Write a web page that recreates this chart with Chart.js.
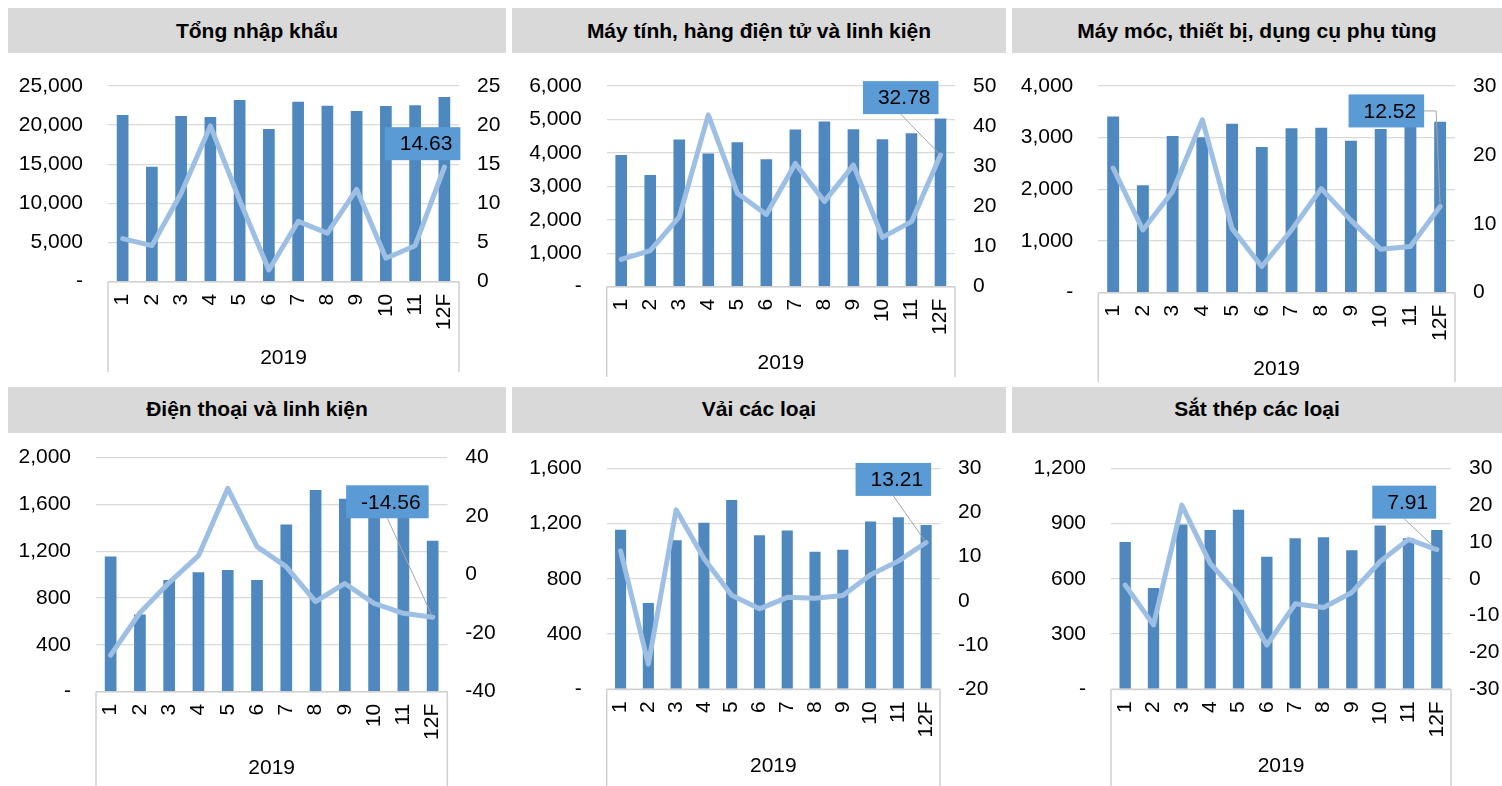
<!DOCTYPE html>
<html lang="vi">
<head>
<meta charset="UTF-8">
<title>Nhập khẩu 2019</title>
<script src="https://cdn.jsdelivr.net/npm/chart.js"></script>
<style>
  body {
    margin: 0;
    width: 1502px;
    height: 786px;
    overflow: hidden;
    position: relative;
    background: #fff;
    font-family: "Liberation Sans", Arial, sans-serif;
  }
  .head {
    position: absolute;
    background: #d9d9d9;
    font-weight: bold;
    font-size: 21px;
    color: #000;
    text-align: center;
  }
  .pane { position: absolute; }
</style>
</head>
<body>
<div class="head" style="left:8px;top:8px;width:498px;height:45px;line-height:45px">Tổng nhập khẩu</div>
<div class="head" style="left:512px;top:8px;width:494px;height:45px;line-height:45px">Máy tính, hàng điện tử và linh kiện</div>
<div class="head" style="left:1012px;top:8px;width:490px;height:45px;line-height:45px">Máy móc, thiết bị, dụng cụ phụ tùng</div>
<div class="head" style="left:8px;top:387px;width:498px;height:46px;line-height:44px">Điện thoại và linh kiện</div>
<div class="head" style="left:512px;top:387px;width:494px;height:46px;line-height:44px">Vải các loại</div>
<div class="head" style="left:1012px;top:387px;width:490px;height:46px;line-height:44px">Sắt thép các loại</div>

<div class="pane" id="p1"><canvas id="c1"></canvas></div>
<div class="pane" id="p2"><canvas id="c2"></canvas></div>
<div class="pane" id="p3"><canvas id="c3"></canvas></div>
<div class="pane" id="p4"><canvas id="c4"></canvas></div>
<div class="pane" id="p5"><canvas id="c5"></canvas></div>
<div class="pane" id="p6"><canvas id="c6"></canvas></div>

<script>
// months of 2019, 12F = forecast
const months = ['1', '2', '3', '4', '5', '6', '7', '8', '9', '10', '11', '12F'];
const yearLabel = '2019';

// Tổng nhập khẩu
const tongValue = [21300, 14700, 21170, 21040, 23210, 19510, 23000, 22490, 21810, 22450, 22530, 23600];
const tongGrowth = [5.5, 4.6, 11.3, 19.9, 10.4, 1.5, 7.7, 6.2, 11.8, 3.0, 4.6, 14.63];
const tongTicksL = [0, 5000, 10000, 15000, 20000, 25000];
const tongTicksR = [0, 5, 10, 15, 20, 25];

// Máy tính, hàng điện tử và linh kiện
const mtValue = [3940, 3340, 4400, 3980, 4320, 3810, 4700, 4940, 4710, 4410, 4590, 5030];
const mtGrowth = [6.8, 9.0, 17.4, 42.8, 23.3, 18.0, 30.7, 21.2, 30.3, 12.3, 16.2, 32.78];
const mtTicksL = [0, 1000, 2000, 3000, 4000, 5000, 6000];
const mtTicksR = [0, 10, 20, 30, 40, 50];

// Máy móc, thiết bị, dụng cụ phụ tùng
const mmValue = [3410, 2080, 3030, 3010, 3270, 2820, 3180, 3190, 2940, 3170, 3300, 3310];
const mmGrowth = [18.1, 9.1, 14.7, 25.1, 9.3, 3.8, 9.1, 15.1, 10.5, 6.3, 6.7, 12.52];
const mmTicksL = [0, 1000, 2000, 3000, 4000];
const mmTicksR = [0, 10, 20, 30];

// Điện thoại và linh kiện
const dtValue = [1155, 660, 955, 1020, 1040, 955, 1430, 1725, 1650, 1600, 1500, 1290];
const dtGrowth = [-27.5, -13.0, -2.7, 6.5, 29.5, 9.6, 2.7, -9.2, -3.0, -9.8, -13.2, -14.56];
const dtTicksL = [0, 400, 800, 1200, 1600, 2000];
const dtTicksR = [-40, -20, 0, 20, 40];

// Vải các loại
const vaiValue = [1155, 625, 1080, 1205, 1370, 1115, 1150, 995, 1010, 1215, 1245, 1190];
const vaiGrowth = [11.3, -14.3, 20.6, 9.6, 1.3, -1.8, 0.8, 0.6, 1.2, 5.9, 9.0, 13.21];
const vaiTicksL = [0, 400, 800, 1200, 1600];
const vaiTicksR = [-20, -10, 0, 10, 20, 30];

// Sắt thép các loại
const stValue = [800, 550, 895, 865, 975, 720, 820, 825, 755, 890, 820, 865];
const stGrowth = [-1.7, -12.5, 20.0, 4.2, -4.4, -18.0, -6.8, -7.8, -3.7, 4.7, 10.7, 7.91];
const stTicksL = [0, 300, 600, 900, 1200];
const stTicksR = [-30, -20, -10, 0, 10, 20, 30];

const BAR = '#4e88be';
const LINE = '#9dbfe3';
const BOX = '#5b9bd5';
const GRID = '#d9d9d9';
const FONT = "'Liberation Sans', Arial, sans-serif";

Chart.defaults.font.family = FONT;
Chart.defaults.font.size = 21;
Chart.defaults.color = '#000';

// frame of the category axis + value label of the last point
const framePlugin = {
  id: 'frame',
  afterDatasetsDraw(chart, args, opts) {
    const ctx = chart.ctx;
    const a = chart.chartArea;
    ctx.save();
    ctx.strokeStyle = '#d0d0d0';
    ctx.lineWidth = 1.5;
    ctx.beginPath();
    ctx.moveTo(a.left, a.bottom);
    ctx.lineTo(a.right, a.bottom);
    ctx.moveTo(a.left, a.bottom);
    ctx.lineTo(a.left, chart.height);
    ctx.moveTo(a.right, a.bottom);
    ctx.lineTo(a.right, chart.height);
    ctx.stroke();

    const meta = chart.getDatasetMeta(1);
    const pt = meta.data[meta.data.length - 1];
    const val = chart.data.datasets[1].data[meta.data.length - 1];
    const text = val.toFixed(2);
    ctx.font = '21px ' + FONT;
    const w = ctx.measureText(text).width + 23;
    const h = 33;
    const right = pt.x + opts.dx;
    const bottom = pt.y + opts.dy;
    const left = right - w;
    const top = bottom - h;

    ctx.strokeStyle = '#a6a6a6';
    ctx.lineWidth = 1;
    if (opts.leader === 'bottom') {
      ctx.beginPath();
      ctx.moveTo(left + w / 2, bottom);
      ctx.lineTo(pt.x, pt.y);
      ctx.stroke();
    } else if (opts.leader === 'elbow') {
      ctx.beginPath();
      ctx.moveTo(right, top + h / 2);
      ctx.lineTo(pt.x - 4, top + h / 2);
      ctx.lineTo(pt.x, pt.y);
      ctx.stroke();
    }
    ctx.fillStyle = BOX;
    ctx.fillRect(left, top, w, h);
    ctx.fillStyle = '#000';
    ctx.textAlign = 'left';
    ctx.textBaseline = 'middle';
    ctx.fillText(text, left + 15, top + h / 2 + 1);
    ctx.restore();
  }
};

function makePanel(cfg) {
  const [cx, cy, cw, ch] = cfg.pane;
  const [pl, pt, pr, pb] = cfg.plot;
  const pane = document.getElementById(cfg.pane_id);
  pane.style.left = cx + 'px';
  pane.style.top = cy + 'px';
  pane.style.width = cw + 'px';
  pane.style.height = ch + 'px';

  const tl = cfg.ticksL, tr = cfg.ticksR;

  new Chart(document.getElementById(cfg.id), {
    type: 'bar',
    data: {
      labels: months,
      datasets: [
        {
          type: 'bar',
          data: cfg.bars,
          yAxisID: 'y',
          backgroundColor: BAR,
          barPercentage: 0.4,
          categoryPercentage: 1,
          order: 1
        },
        {
          type: 'line',
          data: cfg.growth,
          yAxisID: 'y1',
          borderColor: LINE,
          borderWidth: 5,
          pointRadius: 0,
          tension: 0,
          borderJoinStyle: 'round',
          borderCapStyle: 'round',
          order: 0
        }
      ]
    },
    options: {
      responsive: true,
      maintainAspectRatio: false,
      animation: false,
      layout: { padding: { top: pt - cy, left: 0, right: 0, bottom: 0 } },
      plugins: {
        legend: { display: false },
        tooltip: { enabled: false },
        frame: cfg.label
      },
      scales: {
        x: {
          grid: { display: false, drawTicks: false },
          border: { display: false },
          ticks: { minRotation: 90, maxRotation: 90, autoSkip: false, padding: 12 },
          title: { display: true, text: yearLabel, padding: { top: 0, bottom: cfg.yearPad } },
          afterFit(s) { s.height = cy + ch - pb; }
        },
        y: {
          position: 'left',
          min: tl[0],
          max: tl[tl.length - 1],
          grid: { color: GRID, lineWidth: 1.3, drawTicks: false },
          border: { display: false },
          ticks: {
            stepSize: tl[1] - tl[0],
            padding: 25,
            callback: v => v === 0 ? '-' : v.toLocaleString('en-US')
          },
          afterFit(s) { s.width = pl - cx; s.paddingTop = 0; s.paddingBottom = 0; }
        },
        y1: {
          position: 'right',
          min: tr[0],
          max: tr[tr.length - 1],
          grid: { display: false, drawTicks: false },
          border: { display: false },
          ticks: { stepSize: tr[1] - tr[0], padding: 18 },
          afterFit(s) { s.width = cx + cw - pr; s.paddingTop = 0; s.paddingBottom = 0; }
        }
      }
    },
    plugins: [framePlugin]
  });
}

const panels = [
  { id: 'c1', pane_id: 'p1', bars: tongValue, growth: tongGrowth, ticksL: tongTicksL, ticksR: tongTicksR,
    pane: [8, 53, 498, 319], plot: [108, 86, 459, 281.7], yearPad: 1,
    label: { dx: 16, dy: -7, leader: 'none' } },
  { id: 'c2', pane_id: 'p2', bars: mtValue, growth: mtGrowth, ticksL: mtTicksL, ticksR: mtTicksR,
    pane: [512, 53, 494, 324], plot: [606.7, 86, 955, 286.7], yearPad: 1,
    label: { dx: -2, dy: -41, leader: 'bottom' } },
  { id: 'c3', pane_id: 'p3', bars: mmValue, growth: mmGrowth, ticksL: mmTicksL, ticksR: mmTicksR,
    pane: [1012, 53, 490, 329], plot: [1098.3, 86, 1455, 292.7], yearPad: 0,
    label: { dx: -16, dy: -79, leader: 'elbow' } },
  { id: 'c4', pane_id: 'p4', bars: dtValue, growth: dtGrowth, ticksL: dtTicksL, ticksR: dtTicksR,
    pane: [8, 433, 498, 353], plot: [96, 457.7, 447.3, 691.7], yearPad: 5.5,
    label: { dx: -4, dy: -99, leader: 'bottom' } },
  { id: 'c5', pane_id: 'p5', bars: vaiValue, growth: vaiGrowth, ticksL: vaiTicksL, ticksR: vaiTicksR,
    pane: [512, 433, 494, 353], plot: [606.7, 468.3, 940, 689.3], yearPad: 6.7,
    label: { dx: 5, dy: -46.6, leader: 'bottom' } },
  { id: 'c6', pane_id: 'p6', bars: stValue, growth: stGrowth, ticksL: stTicksL, ticksR: stTicksR,
    pane: [1012, 433, 490, 353], plot: [1111, 468.3, 1451, 689.3], yearPad: 6.7,
    label: { dx: -0.7, dy: -31, leader: 'bottom' } }
];

panels.forEach(makePanel);
</script>
</body>
</html>
